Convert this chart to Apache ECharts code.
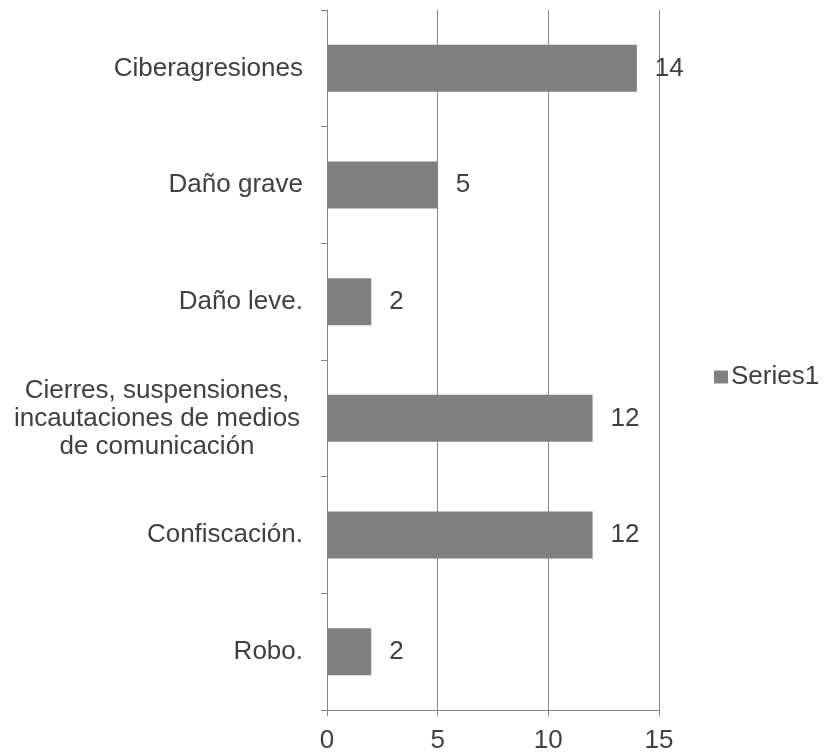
<!DOCTYPE html>
<html><head><meta charset="utf-8">
<script src="https://cdn.jsdelivr.net/npm/echarts@6/dist/echarts.min.js"></script>
<style>html,body{margin:0;padding:0;background:#fff}#c{width:824px;height:754px}</style>
</head><body><div id="c"></div>
<script>
const categories = ["Robo.", "Confiscación.", "Cierres, suspensiones,\nincautaciones de medios\nde comunicación", "Daño leve.", "Daño grave", "Ciberagresiones"];
const values = [2, 12, 12, 2, 5, 14];
const xTicks = [0, 5, 10, 15];
const FONT = 'Liberation Sans, Arial, sans-serif';
const chart = echarts.init(document.getElementById('c'));
chart.setOption({
  animation: false,
  textStyle: {fontFamily: FONT},
  legend: {
    left: 714, top: 364, padding: 0, itemWidth: 14, itemHeight: 13, itemGap: 5,
    icon: 'rect',
    textStyle: {fontSize: 26, color: '#404040', fontFamily: FONT, padding: [0,0,0,-2]},
    data: ['Series1']
  },
  grid: {left: 327, right: 165, top: 10, bottom: 43, containLabel: false},
  xAxis: {
    type: 'value', min: xTicks[0], max: xTicks[xTicks.length-1], interval: 5,
    axisLine: {show: true, lineStyle: {color: '#868686', width: 1}},
    axisTick: {show: true, length: 6, lineStyle: {color: '#868686'}},
    splitLine: {show: true, lineStyle: {color: '#868686', width: 1}},
    axisLabel: {fontSize: 26, color: '#404040', margin: 18, fontFamily: FONT}
  },
  yAxis: {
    type: 'category', data: categories,
    axisLine: {show: true, lineStyle: {color: '#868686', width: 1}},
    axisTick: {show: true, length: 6, lineStyle: {color: '#868686'}},
    axisLabel: {
      fontSize: 26, color: '#404040', margin: 24, align: 'right', fontFamily: FONT,
      formatter: function (v) {
        if (v.indexOf('\n') < 0) return v;
        return v.split('\n').map(function (l) { return '{c|' + l + '}'; }).join('\n');
      },
      rich: {c: {fontSize: 26, color: '#404040', fontFamily: FONT, width: 292, align: 'center', lineHeight: 28}}
    }
  },
  series: [{
    name: 'Series1', type: 'bar', data: values, barWidth: 47,
    itemStyle: {color: '#808080'},
    label: {show: true, position: 'right', distance: 18, fontSize: 26, color: '#404040', fontFamily: FONT}
  }]
});
</script></body></html>
